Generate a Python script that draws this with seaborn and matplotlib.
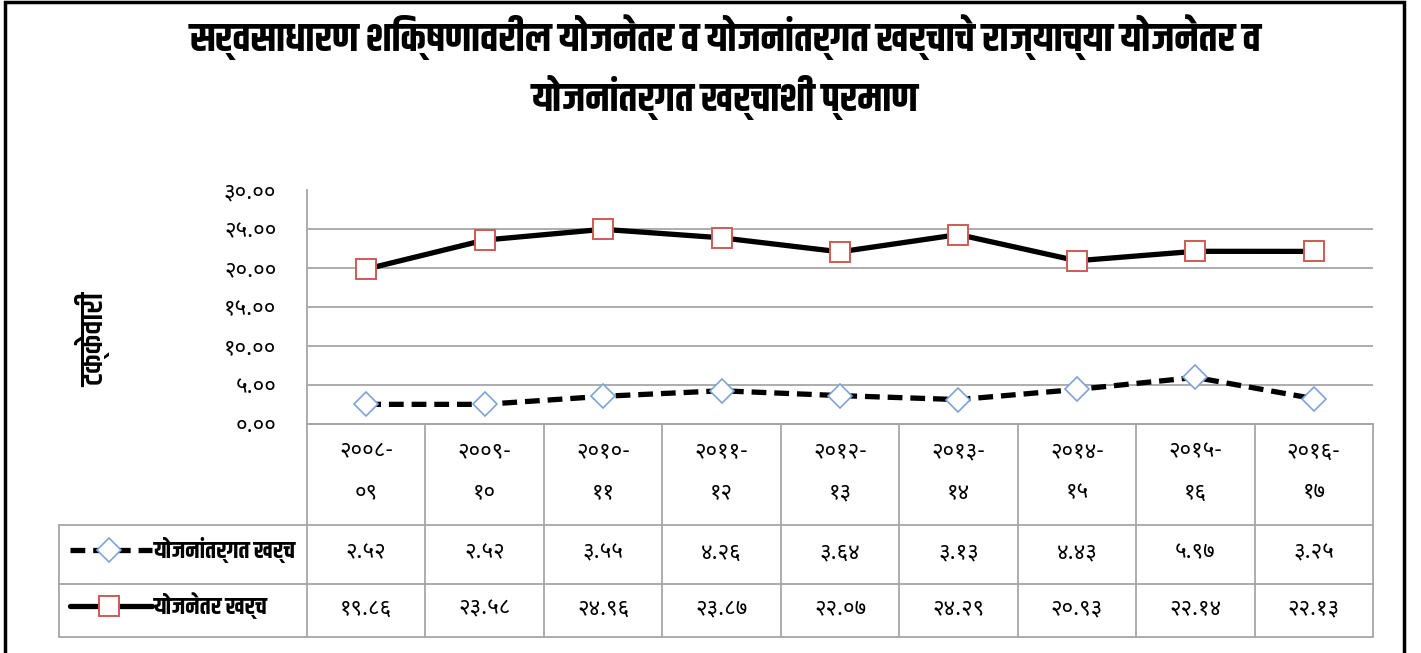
import numpy as np
import pandas as pd
import seaborn as sns
import matplotlib.pyplot as plt
from matplotlib.lines import Line2D
from matplotlib.patches import Rectangle

# data
years = ["२००८-\n०९", "२००९-\n१०", "२०१०-\n११", "२०११-\n१२", "२०१२-\n१३",
         "२०१३-\n१४", "२०१४-\n१५", "२०१५-\n१६", "२०१६-\n१७"]
plan_exp = [2.52, 2.52, 3.55, 4.26, 3.64, 3.13, 4.43, 5.97, 3.25]
nonplan_exp = [19.86, 23.58, 24.96, 23.87, 22.07, 24.29, 20.93, 22.14, 22.13]
series_names = ["योजनांतर्गत खर्च", "योजनेतर खर्च"]
y_ticks = [0, 5, 10, 15, 20, 25, 30]
title = ("सर्वसाधारण शिक्षणावरील योजनेतर व योजनांतर्गत खर्चाचे राज्याच्या योजनेतर व\n"
         "योजनांतर्गत खर्चाशी प्रमाण")
y_label = "टक्केवारी"

DEV = str.maketrans("0123456789", "०१२३४५६७८९")


def dev(v):
    return f"{v:.2f}".translate(DEV)


df = pd.DataFrame({"year": years, "plan": plan_exp, "nonplan": nonplan_exp})

sns.set_theme(style="white")
body_fonts = ["Noto Sans Devanagari", "Hind", "Mukta", "Poppins", "DejaVu Sans"]
head_fonts = ["Khand", "Teko", "Rajdhani", "Noto Sans Devanagari", "Hind", "DejaVu Sans"]
plt.rcParams["font.family"] = body_fonts
plt.rcParams["text.color"] = "black"
plt.rcParams["ytick.color"] = "black"

W, H = 1421, 653
fig = plt.figure(figsize=(W / 100, H / 100), dpi=100)

# plot area in pixels
L, R, T, B = 307, 1373, 190, 424
ax = fig.add_axes([L / W, 1 - B / H, (R - L) / W, (B - T) / H])

grid_col = "#a6a6a6"
diamond_style = dict(marker="D", markersize=12.5, markerfacecolor="white",
                     markeredgecolor="#7ea3d4", markeredgewidth=1.2)
square_style = dict(marker="s", markersize=15, markerfacecolor="white",
                    markeredgecolor="#cf5a55", markeredgewidth=1.4)

sns.lineplot(data=df, x="year", y="plan", ax=ax, color="black", linewidth=3.8,
             linestyle=(0, (2.8, 1.5)), sort=False, **diamond_style)
sns.lineplot(data=df, x="year", y="nonplan", ax=ax, color="black", linewidth=3.8,
             sort=False, **square_style)

ax.set_ylim(0, 30)
ax.set_xlim(-0.5, len(years) - 0.5)
ax.set_yticks(y_ticks)
ax.set_yticklabels([dev(v) for v in y_ticks], fontsize=16)
ax.tick_params(axis="y", length=0, pad=22)
ax.set_xticks([])
ax.set_xlabel("")
ax.set_ylabel("")
ax.yaxis.grid(True, color=grid_col, linewidth=1.3)
ax.get_ygridlines()[-1].set_visible(False)
ax.set_axisbelow(True)
for s in ["top", "right"]:
    ax.spines[s].set_visible(False)
for s in ["left", "bottom"]:
    ax.spines[s].set_color(grid_col)
    ax.spines[s].set_linewidth(1.3)

# title and axis label
t1, t2 = title.split("\n")
fig.text(725 / W, 1 - 37 / H, t1, ha="center", va="center", fontsize=29,
         fontweight="bold", family=head_fonts)
fig.text(725 / W, 1 - 97 / H, t2, ha="center", va="center", fontsize=29,
         fontweight="bold", family=head_fonts)
fig.text(94 / W, 1 - 340 / H, y_label, rotation=90, ha="center", va="center",
         fontsize=23, fontweight="semibold", family=head_fonts)

# data table below the plot, in pixel coordinates
tax = fig.add_axes([0, 0, 1, 1], zorder=-1)
tax.set_xlim(0, W)
tax.set_ylim(H, 0)
tax.axis("off")

n = len(years)
cw = (R - L) / n
row_edges = [B, 525, 584, 637]
leg_left = 59
for y in row_edges[1:]:
    tax.plot([leg_left, R], [y, y], color=grid_col, lw=1.3)
tax.plot([L, R], [B, B], color=grid_col, lw=1.3)
for i in range(n + 1):
    x = L + i * cw
    tax.plot([x, x], [B, row_edges[-1]], color=grid_col, lw=1.3)
tax.plot([leg_left, leg_left], [row_edges[1], row_edges[-1]], color=grid_col, lw=1.3)

fs_tab = 16
for i, yr in enumerate(years):
    xc = L + (i + 0.5) * cw
    top, bot = yr.split("\n")
    tax.text(xc, 452, top, ha="center", va="center", fontsize=fs_tab)
    tax.text(xc, 493, bot, ha="center", va="center", fontsize=fs_tab)
    tax.text(xc, 553, dev(plan_exp[i]), ha="center", va="center", fontsize=fs_tab)
    tax.text(xc, 609, dev(nonplan_exp[i]), ha="center", va="center", fontsize=fs_tab)

# legend keys inside the table
ky = [550, 606]
tax.add_line(Line2D([70, 152], [ky[0], ky[0]], color="black", lw=3.8,
                    linestyle=(0, (2.8, 1.5))))
tax.add_line(Line2D([109], [ky[0]], linestyle="none", **diamond_style))
tax.add_line(Line2D([70, 152], [ky[1], ky[1]], color="black", lw=3.8))
tax.add_line(Line2D([109], [ky[1]], linestyle="none", **square_style))
for y, name in zip(ky, series_names):
    tax.text(154, y, name, ha="left", va="center", fontsize=17,
             fontweight="bold", family=head_fonts)

# outer frame
fig.patches.append(Rectangle((5 / W, -0.05), (1404 - 5) / W, 1.05 - 2 / H,
                             transform=fig.transFigure, fill=False,
                             edgecolor="black", linewidth=2.5))

fig.savefig("out.png", dpi=100)
